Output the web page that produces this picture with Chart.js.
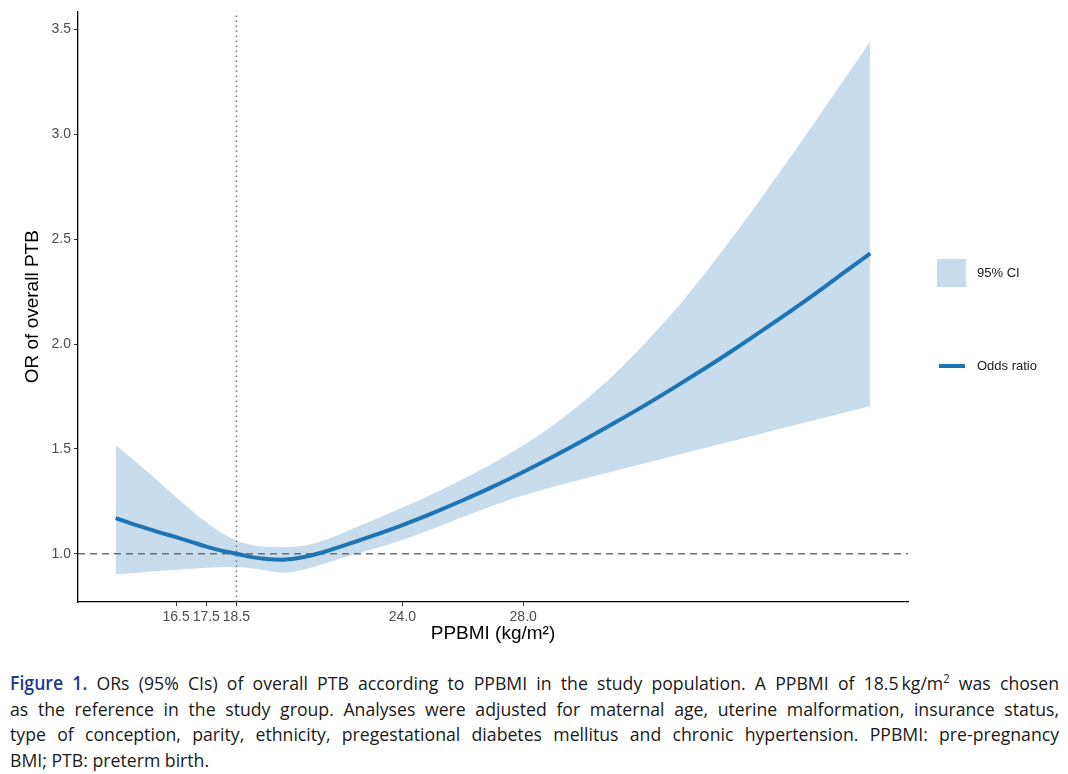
<!DOCTYPE html>
<html lang="en">
<head>
    <meta charset="UTF-8">
    <title>ORs of overall PTB by PPBMI</title>
    <script src="https://cdn.jsdelivr.net/npm/chart.js"></script>
    <style>
        body { margin: 0; background: #fff; width: 1068px; height: 774px; overflow: hidden; position: relative; }
        .chart-box { position: absolute; left: 0; top: 0; width: 1068px; height: 650px; }
        .legend-key { position: absolute; }
        .legend-text { position: absolute; font-family: "Liberation Sans", Arial, sans-serif; font-size: 13px; color: #1a1a1a; line-height: 16px; }
        .caption-line {
            position: absolute; left: 10px; white-space: nowrap;
            font-family: "Open Sans", "Noto Sans", sans-serif; font-size: 19px; color: #1a1a1a;
            line-height: 24px; transform-origin: 0 0; transform: scaleX(0.93);
            width: 1128px; text-align: justify; text-align-last: justify;
        }
        .caption-line.last { text-align-last: left; }
        .caption-line b { color: #25398f; font-weight: 600; }
        .caption-line sup { font-size: 12px; line-height: 0; }
    </style>
</head>
<body>
    <div class="chart-box"><canvas id="orChart"></canvas></div>

    <!-- legend -->
    <div class="legend-key" style="left:937px; top:259px; width:29px; height:28px; background:#c7dced;"></div>
    <div class="legend-text" style="left:977px; top:265px;">95% CI</div>
    <div class="legend-key" style="left:939px; top:364px; width:26px; height:4px; background:#1f74b4;"></div>
    <div class="legend-text" style="left:977px; top:358px;">Odds ratio</div>

    <!-- caption -->
    <div class="caption-line" style="top:671px;"><b>Figure 1.</b> ORs (95% CIs) of overall PTB according to PPBMI in the study population. A PPBMI of 18.5&thinsp;kg/m<sup>2</sup> was chosen</div>
    <div class="caption-line" style="top:697px;">as the reference in the study group. Analyses were adjusted for maternal age, uterine malformation, insurance status,</div>
    <div class="caption-line" style="top:722px;">type of conception, parity, ethnicity, pregestational diabetes mellitus and chronic hypertension. PPBMI: pre-pregnancy</div>
    <div class="caption-line last" style="top:748px;">BMI; PTB: preterm birth.</div>

    <script>
        // values
        const bmi = [14.5, 15, 15.5, 16, 16.5, 17, 17.5, 18, 18.5, 19, 19.5, 20, 20.5, 21, 21.5,
                     22, 23, 24, 25, 26, 27, 28, 29, 30, 31, 32, 33, 34, 35, 36, 37, 38, 39, 39.5];
        const oddsRatio = [1.170, 1.145, 1.122, 1.100, 1.079, 1.057, 1.034, 1.015, 1.000, 0.984, 0.975, 0.972, 0.979, 0.993, 1.013,
                           1.036, 1.085, 1.137, 1.194, 1.255, 1.320, 1.390, 1.464, 1.541, 1.622, 1.705, 1.792, 1.882, 1.975, 2.072, 2.171, 2.274, 2.380, 2.432];
        const ciUpper = [1.517, 1.458, 1.397, 1.334, 1.270, 1.208, 1.150, 1.100, 1.063, 1.042, 1.033, 1.031, 1.035, 1.047, 1.069,
                         1.098, 1.158, 1.220, 1.285, 1.355, 1.432, 1.517, 1.614, 1.726, 1.854, 1.999, 2.157, 2.333, 2.521, 2.718, 2.921, 3.128, 3.338, 3.444];
        const ciLower = [0.902, 0.907, 0.913, 0.919, 0.924, 0.929, 0.933, 0.936, 0.937, 0.931, 0.920, 0.910, 0.918, 0.935, 0.957,
                         0.980, 1.022, 1.066, 1.118, 1.175, 1.230, 1.279, 1.320, 1.357, 1.394, 1.430, 1.467, 1.504, 1.540, 1.577, 1.614, 1.650, 1.687, 1.705];

        const xTicks = [16.5, 17.5, 18.5, 24.0, 28.0];
        const yTicks = [1.0, 1.5, 2.0, 2.5, 3.0, 3.5];
        const xRange = [13.25, 40.75];
        const yRange = [0.77, 3.586];
        const referenceBmi = 18.5;
        const referenceOr = 1.0;

        const toPoints = (ys) => ys.map((y, i) => ({ x: bmi[i], y: y }));

        const tickFont = { family: "'Liberation Sans', Arial, sans-serif", size: 14 };
        const titleFont = { family: "'Liberation Sans', Arial, sans-serif", size: 19 };

        const ctx = document.getElementById('orChart').getContext('2d');
        new Chart(ctx, {
            type: 'line',
            data: {
                datasets: [
                    {
                        label: 'Odds ratio',
                        data: toPoints(oddsRatio),
                        borderColor: '#1f74b4',
                        borderWidth: 4,
                        pointRadius: 0,
                        cubicInterpolationMode: 'monotone',
                        fill: false
                    },
                    {
                        label: 'ref OR',
                        data: [{ x: xRange[0], y: referenceOr }, { x: xRange[1], y: referenceOr }],
                        borderColor: '#6e6e6e',
                        borderWidth: 1.7,
                        borderDash: [7, 5],
                        pointRadius: 0,
                        fill: false
                    },
                    {
                        label: 'ref BMI',
                        data: [{ x: referenceBmi, y: yRange[0] }, { x: referenceBmi, y: yRange[1] }],
                        borderColor: '#707070',
                        borderWidth: 1.5,
                        borderDash: [1.5, 3.5],
                        pointRadius: 0,
                        fill: false
                    },
                    {
                        label: '95% CI',
                        data: toPoints(ciUpper),
                        borderColor: 'transparent',
                        borderWidth: 0,
                        backgroundColor: '#c7dced',
                        pointRadius: 0,
                        cubicInterpolationMode: 'monotone',
                        fill: '+1'
                    },
                    {
                        label: 'CI lower',
                        data: toPoints(ciLower),
                        borderColor: 'transparent',
                        borderWidth: 0,
                        pointRadius: 0,
                        cubicInterpolationMode: 'monotone',
                        fill: false
                    }
                ]
            },
            options: {
                responsive: true,
                maintainAspectRatio: false,
                animation: false,
                layout: { padding: { top: 10, right: 160, left: 0, bottom: 0 } },
                plugins: {
                    legend: { display: false },
                    tooltip: { enabled: false }
                },
                scales: {
                    x: {
                        type: 'linear',
                        min: xRange[0],
                        max: xRange[1],
                        afterBuildTicks: (scale) => { scale.ticks = xTicks.map(v => ({ value: v })); },
                        afterFit: (scale) => { scale.height = 48; },
                        ticks: {
                            autoSkip: false,
                            maxRotation: 0,
                            padding: 3,
                            color: '#4d4d4d',
                            font: tickFont,
                            callback: (v) => Number(v).toFixed(1)
                        },
                        grid: { drawOnChartArea: false, drawTicks: true, tickLength: 4, color: '#333333', lineWidth: 1 },
                        border: { color: '#000000', width: 1.3 },
                        title: { display: true, text: 'PPBMI (kg/m²)', color: '#000000', font: titleFont, padding: { top: 0, bottom: 4.5 } }
                    },
                    y: {
                        type: 'linear',
                        min: yRange[0],
                        max: yRange[1],
                        afterBuildTicks: (scale) => { scale.ticks = yTicks.map(v => ({ value: v })); },
                        afterFit: (scale) => { scale.width = 78; },
                        ticks: {
                            autoSkip: false,
                            padding: 3,
                            color: '#4d4d4d',
                            font: tickFont,
                            callback: (v) => Number(v).toFixed(1)
                        },
                        grid: { drawOnChartArea: false, drawTicks: true, tickLength: 4, color: '#333333', lineWidth: 1 },
                        border: { color: '#000000', width: 1.3 },
                        title: { display: true, text: 'OR of overall PTB', color: '#000000', font: titleFont, padding: { top: 21.5, bottom: 0 } }
                    }
                }
            }
        });
    </script>
</body>
</html>
